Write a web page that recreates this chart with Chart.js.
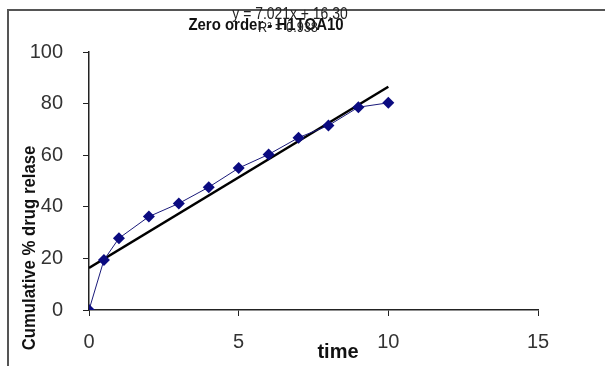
<!DOCTYPE html>
<html>
<head>
<meta charset="utf-8">
<script src="https://cdn.jsdelivr.net/npm/chart.js@4.4.0/dist/chart.umd.min.js"></script>
<style>
  html, body { margin: 0; padding: 0; background: #fff; }
  #wrap { width: 605px; height: 366px; position: relative; }
</style>
</head>
<body>
<div id="wrap"><canvas id="chart" width="605" height="366"></canvas></div>
<script>
// data
var times = [0, 0.5, 1, 2, 3, 4, 5, 6, 7, 8, 9, 10];
var release = [0, 19.4, 27.8, 36.2, 41.3, 47.6, 55.0, 60.3, 66.8, 71.5, 78.6, 80.3];
var trendX = [0, 10];
var trendY = [16.30, 86.51];
var xTicks = [0, 5, 10, 15];
var yTicks = [0, 20, 40, 60, 80, 100];
var titleText = 'Zero order - H1TOA10';
var eqText = 'y = 7.021x + 16.30';
var r2Text = 'R\u00B2 = 0.938';

var seriesPoints = [];
for (var i = 0; i < times.length; i++) {
    seriesPoints.push({ x: times[i], y: release[i] });
}
var trendPoints = [];
for (var j = 0; j < trendX.length; j++) {
    trendPoints.push({ x: trendX[j], y: trendY[j] });
}

var FONT = '"Liberation Sans", Arial, sans-serif';

// narrow text, the picture's fonts look squeezed
function narrowText(ctx, text, x, y, sx) {
    ctx.save();
    ctx.translate(x, y);
    ctx.scale(sx, 1);
    ctx.fillText(text, 0, 0);
    ctx.restore();
}

// frame, titles and the trendline equation
var decorations = {
    id: 'decorations',
    beforeDraw: function (chart) {
        var ctx = chart.ctx;
        ctx.save();
        ctx.fillStyle = '#fff';
        ctx.fillRect(0, 0, chart.width, chart.height);
        ctx.strokeStyle = '#555';
        ctx.lineWidth = 2;
        ctx.beginPath();
        ctx.moveTo(8, chart.height);
        ctx.lineTo(8, 10);
        ctx.lineTo(chart.width, 10);
        ctx.stroke();
        ctx.restore();
    },
    afterDraw: function (chart) {
        var ctx = chart.ctx;
        ctx.save();
        ctx.textAlign = 'center';
        ctx.textBaseline = 'middle';
        ctx.fillStyle = '#111';
        ctx.font = 'bold 17px ' + FONT;
        narrowText(ctx, titleText, 266, 25, 0.88);
        ctx.fillStyle = '#222';
        ctx.font = '16px ' + FONT;
        narrowText(ctx, eqText, 290, 15, 0.87);
        ctx.font = '15px ' + FONT;
        narrowText(ctx, r2Text, 288, 28, 0.85);

        ctx.fillStyle = '#111';
        ctx.font = 'bold 20px ' + FONT;
        ctx.fillText('time', 338, 352);

        ctx.translate(30, 248);
        ctx.rotate(-Math.PI / 2);
        ctx.font = 'bold 18px ' + FONT;
        narrowText(ctx, 'Cumulative % drug relase', 0, 0, 0.93);
        ctx.restore();
    }
};

var ctx = document.getElementById('chart').getContext('2d');
var chart = new Chart(ctx, {
    type: 'scatter',
    data: {
        datasets: [
            {
                label: 'release',
                data: seriesPoints,
                showLine: true,
                borderColor: '#1a1a7a',
                backgroundColor: '#0b0b80',
                borderWidth: 1,
                pointStyle: 'rectRot',
                pointRadius: 6,
                pointBorderWidth: 0,
                order: 1
            },
            {
                label: 'trend',
                data: trendPoints,
                showLine: true,
                borderColor: '#000',
                borderWidth: 2.5,
                pointRadius: 0,
                order: 2
            }
        ]
    },
    options: {
        responsive: false,
        animation: false,
        layout: { padding: { top: 52, right: 67, left: 0, bottom: 0 } },
        plugins: {
            legend: { display: false },
            tooltip: { enabled: false }
        },
        scales: {
            x: {
                type: 'linear',
                min: 0,
                max: 15,
                afterBuildTicks: function (scale) {
                    scale.ticks = xTicks.map(function (v) { return { value: v }; });
                },
                afterFit: function (scale) { scale.height = 56; },
                grid: { drawOnChartArea: false, drawTicks: true, tickLength: 6, color: '#222' },
                border: { display: true, color: '#222', width: 1.5 },
                ticks: { color: '#333', padding: 14, font: { size: 20, family: FONT } }
            },
            y: {
                type: 'linear',
                min: 0,
                max: 100,
                afterBuildTicks: function (scale) {
                    scale.ticks = yTicks.map(function (v) { return { value: v }; });
                },
                afterFit: function (scale) { scale.width = 89; },
                grid: { drawOnChartArea: false, drawTicks: true, tickLength: 6, color: '#222' },
                border: { display: true, color: '#222', width: 1.5 },
                ticks: { color: '#333', padding: 20, font: { size: 20, family: FONT } }
            }
        }
    },
    plugins: [decorations]
});
</script>
</body>
</html>
